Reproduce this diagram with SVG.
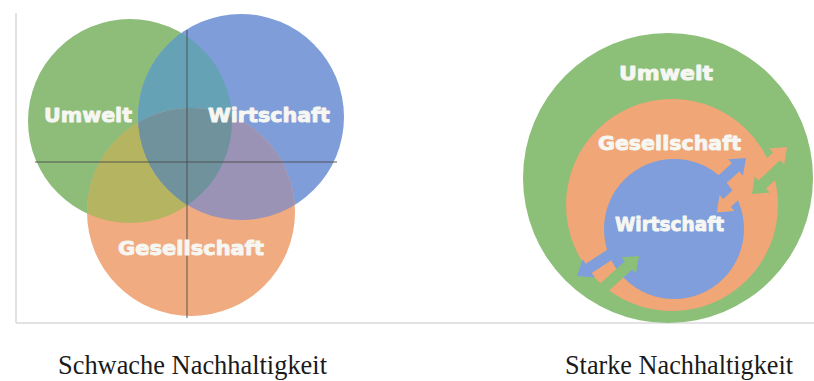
<svg xmlns="http://www.w3.org/2000/svg" width="814" height="381" viewBox="0 0 814 381">
<style>
.lbl{font-family:"DejaVu Sans","Liberation Sans",sans-serif;font-weight:bold;font-size:19px;fill:#f6f6f2;stroke:#f6f6f2;stroke-width:0.9;stroke-linejoin:round}
.cap{font-family:"Liberation Serif","Times New Roman",serif;font-size:27px;fill:#1a1a1a}
.frame{stroke:#d9d9d9;stroke-width:1.5;fill:none}
.axis{stroke:#4a4a4a;stroke-opacity:0.45;stroke-width:2;fill:none}
</style>
<defs>
<clipPath id="cG"><circle cx="130" cy="121" r="102"/></clipPath>
<clipPath id="cB"><circle cx="241" cy="117" r="103"/></clipPath>
</defs>
<rect width="814" height="381" fill="#ffffff"/>
<g id="frame">
<line class="frame" x1="16" y1="13" x2="16" y2="323"/>
<line class="frame" x1="16" y1="323" x2="814" y2="323"/>
</g>
<g id="weak">
<g id="weak-umwelt"><circle cx="130" cy="121" r="102" fill="#8dbd79"/></g>
<g id="weak-wirtschaft"><circle cx="241" cy="117" r="103" fill="#7f9dd8"/>
<circle cx="241" cy="117" r="103" fill="#66a2b5" clip-path="url(#cG)"/></g>
<g id="weak-gesellschaft"><circle cx="191" cy="212" r="104" fill="#f0ab80"/>
<circle cx="191" cy="212" r="104" fill="#b5b461" clip-path="url(#cG)"/>
<circle cx="191" cy="212" r="104" fill="#9a93b6" clip-path="url(#cB)"/>
<g clip-path="url(#cG)"><circle cx="191" cy="212" r="104" fill="#6f929d" clip-path="url(#cB)"/></g></g>
<g id="axes">
<line class="axis" x1="187" y1="30" x2="187" y2="318"/>
<line class="axis" x1="35" y1="162" x2="337" y2="162"/>
</g>
<text class="lbl" x="44" y="122" textLength="88" lengthAdjust="spacingAndGlyphs">Umwelt</text>
<text class="lbl" x="208" y="122" textLength="122" lengthAdjust="spacingAndGlyphs">Wirtschaft</text>
<text class="lbl" x="118" y="255" textLength="146" lengthAdjust="spacingAndGlyphs">Gesellschaft</text>
</g>
<g id="strong">
<g id="strong-umwelt"><circle cx="668" cy="178" r="145" fill="#8cbf78"/></g>
<g id="strong-gesellschaft"><circle cx="672" cy="205" r="106" fill="#f0a677"/></g>
<g id="strong-wirtschaft"><circle cx="674" cy="229" r="70" fill="#7f9edb"/></g>
<g id="connectors">
<polygon fill="#f0a677" transform="translate(787,147) rotate(-43)" points="0,0 -14,-11 -14,-5.5 -82,-5.5 -82,-11 -96,0 -82,11 -82,5.5 -14,5.5 -14,11"/>
<polygon fill="#7f9edb" transform="translate(746,158) rotate(-42)" points="0,0 -14,-11 -14,-5.5 -48,-5.5 -48,5.5 -14,5.5 -14,11"/>
<polygon fill="#8cbf78" transform="translate(752,194) rotate(137)" points="0,0 -14,-11 -14,-5.5 -42,-5.5 -42,5.5 -14,5.5 -14,11"/>
<polygon fill="#7f9edb" transform="translate(577,276) rotate(147)" points="0,0 -14,-11 -14,-5.5 -58,-5.5 -58,5.5 -14,5.5 -14,11"/>
<polygon fill="#8cbf78" transform="translate(639,256) rotate(-42)" points="0,0 -14,-11 -14,-5.5 -52,-5.5 -52,5.5 -14,5.5 -14,11"/>
</g>
<text class="lbl" x="619" y="80" textLength="94" lengthAdjust="spacingAndGlyphs">Umwelt</text>
<text class="lbl" x="598" y="150" textLength="143" lengthAdjust="spacingAndGlyphs">Gesellschaft</text>
<text class="lbl" x="615" y="231" textLength="109" lengthAdjust="spacingAndGlyphs">Wirtschaft</text>
</g>
<g id="captions">
<text class="cap" x="58" y="374" textLength="269" lengthAdjust="spacingAndGlyphs">Schwache Nachhaltigkeit</text>
<text class="cap" x="565" y="374" textLength="228" lengthAdjust="spacingAndGlyphs">Starke Nachhaltigkeit</text>
</g>
</svg>
